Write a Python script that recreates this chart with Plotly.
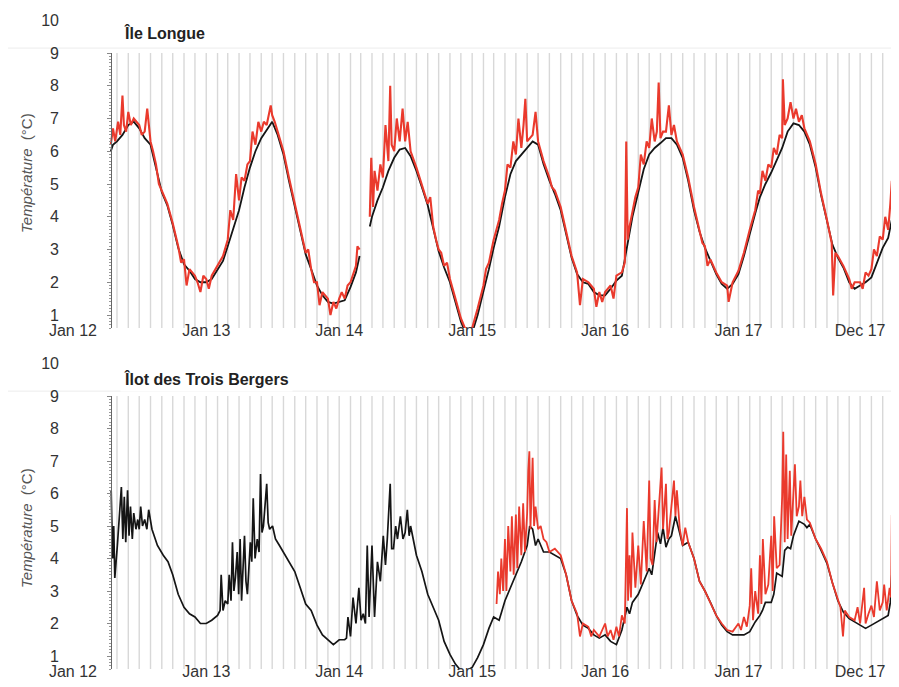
import plotly.graph_objects as go
import pandas as pd

# ---------------- data ----------------
tick_dates = ["2012-01-01", "2013-01-01", "2014-01-01", "2015-01-01",
              "2016-01-01", "2017-01-01", "2017-12-01"]
tick_text = ["Jan 12", "Jan 13", "Jan 14", "Jan 15", "Jan 16", "Jan 17", "Dec 17"]
panel_titles = ["Île Longue", "Îlot des Trois Bergers"]

# Île Longue - black series
ile_longue_black = [
    ("2012-04-14", 6.0), ("2012-04-20", 6.2), ("2012-05-01", 6.3), ("2012-05-16", 6.5),
    ("2012-06-01", 6.8), ("2012-06-16", 6.9), ("2012-07-01", 6.7), ("2012-07-16", 6.4),
    ("2012-08-01", 6.2), ("2012-08-16", 5.5), ("2012-09-01", 4.75), ("2012-09-16", 4.35),
    ("2012-10-01", 3.75), ("2012-10-16", 3.05), ("2012-11-01", 2.55), ("2012-11-16", 2.35),
    ("2012-12-01", 2.1), ("2012-12-16", 2.0), ("2013-01-01", 2.0), ("2013-01-16", 2.1),
    ("2013-02-01", 2.4), ("2013-02-16", 2.65), ("2013-03-01", 3.1), ("2013-03-16", 3.6),
    ("2013-04-01", 4.2), ("2013-04-16", 4.9), ("2013-05-01", 5.5), ("2013-05-16", 6.0),
    ("2013-06-01", 6.4), ("2013-06-16", 6.65), ("2013-07-01", 6.9), ("2013-07-16", 6.5),
    ("2013-08-01", 5.9), ("2013-08-16", 5.1), ("2013-09-01", 4.3), ("2013-09-16", 3.55),
    ("2013-10-01", 2.85), ("2013-10-16", 2.4), ("2013-11-01", 1.9), ("2013-11-16", 1.6),
    ("2013-12-01", 1.4), ("2013-12-16", 1.35), ("2014-01-01", 1.4), ("2014-01-16", 1.45),
    ("2014-02-01", 1.85), ("2014-02-16", 2.3), ("2014-02-26", 2.8), ("2014-03-10", None),
    ("2014-03-26", 3.7), ("2014-04-01", 4.0), ("2014-04-16", 4.5), ("2014-05-01", 4.9),
    ("2014-05-16", 5.4), ("2014-06-01", 5.8), ("2014-06-16", 6.05), ("2014-07-01", 6.1),
    ("2014-07-16", 5.85), ("2014-08-01", 5.4), ("2014-08-16", 4.9), ("2014-09-01", 4.35),
    ("2014-09-16", 3.65), ("2014-10-01", 2.95), ("2014-10-16", 2.45), ("2014-11-01", 2.0),
    ("2014-11-16", 1.4), ("2014-12-01", 0.8), ("2014-12-16", 0.4), ("2015-01-01", 0.45),
    ("2015-01-16", 1.0), ("2015-02-01", 1.7), ("2015-02-16", 2.4), ("2015-03-01", 3.05),
    ("2015-03-16", 3.7), ("2015-04-01", 4.6), ("2015-04-16", 5.3), ("2015-05-01", 5.7),
    ("2015-05-16", 5.9), ("2015-06-01", 6.1), ("2015-06-16", 6.3), ("2015-07-01", 6.2),
    ("2015-07-16", 5.6), ("2015-08-01", 5.1), ("2015-08-16", 4.7), ("2015-09-01", 4.2),
    ("2015-09-16", 3.45), ("2015-10-01", 2.75), ("2015-10-16", 2.25), ("2015-11-01", 2.0),
    ("2015-11-16", 1.95), ("2015-12-01", 1.7), ("2015-12-16", 1.6), ("2016-01-01", 1.6),
    ("2016-01-16", 1.8), ("2016-02-01", 2.05), ("2016-02-16", 2.2), ("2016-03-01", 3.1),
    ("2016-03-16", 4.0), ("2016-04-01", 4.75), ("2016-04-16", 5.45), ("2016-05-01", 5.9),
    ("2016-05-16", 6.1), ("2016-06-01", 6.25), ("2016-06-16", 6.4), ("2016-07-01", 6.4),
    ("2016-07-16", 6.2), ("2016-08-01", 5.8), ("2016-08-16", 5.1), ("2016-09-01", 4.2),
    ("2016-09-16", 3.55), ("2016-10-01", 3.05), ("2016-10-16", 2.65), ("2016-11-01", 2.25),
    ("2016-11-16", 1.95), ("2016-12-01", 1.8), ("2016-12-16", 1.95), ("2017-01-01", 2.25),
    ("2017-01-16", 2.8), ("2017-02-01", 3.5), ("2017-02-16", 4.1), ("2017-03-01", 4.6),
    ("2017-03-16", 5.0), ("2017-04-01", 5.35), ("2017-04-16", 5.7), ("2017-05-01", 6.1),
    ("2017-05-16", 6.6), ("2017-06-01", 6.85), ("2017-06-16", 6.8), ("2017-07-01", 6.6),
    ("2017-07-16", 6.2), ("2017-08-01", 5.5), ("2017-08-16", 4.65), ("2017-09-01", 3.85),
    ("2017-09-16", 3.15), ("2017-10-01", 2.75), ("2017-10-16", 2.45), ("2017-11-01", 2.0),
    ("2017-11-16", 1.8), ("2017-12-01", 1.9), ("2017-12-16", 2.0), ("2018-01-01", 2.15),
    ("2018-01-16", 2.6), ("2018-02-01", 3.05), ("2018-02-16", 3.35), ("2018-02-26", 3.9),
]

# Île Longue - red series
ile_longue_red = [
    ("2012-04-14", 6.2), ("2012-04-20", 6.7), ("2012-04-26", 6.3), ("2012-05-04", 6.9),
    ("2012-05-10", 6.5), ("2012-05-16", 7.7), ("2012-05-20", 6.8), ("2012-05-26", 6.6),
    ("2012-06-01", 7.2), ("2012-06-08", 6.8), ("2012-06-16", 7.0), ("2012-06-24", 6.9),
    ("2012-07-01", 6.8), ("2012-07-08", 6.5), ("2012-07-16", 6.6), ("2012-07-23", 7.3),
    ("2012-08-01", 6.3), ("2012-08-08", 6.0), ("2012-08-16", 5.6), ("2012-08-24", 5.0),
    ("2012-09-01", 4.8), ("2012-09-16", 4.4), ("2012-10-01", 3.8), ("2012-10-16", 3.1),
    ("2012-10-24", 2.6), ("2012-11-01", 2.7), ("2012-11-08", 1.9), ("2012-11-16", 2.4),
    ("2012-12-01", 2.2), ("2012-12-08", 2.0), ("2012-12-16", 1.7), ("2012-12-24", 2.2),
    ("2013-01-01", 2.1), ("2013-01-08", 1.8), ("2013-01-16", 2.2), ("2013-02-01", 2.5),
    ("2013-02-16", 2.8), ("2013-03-01", 3.3), ("2013-03-08", 4.2), ("2013-03-16", 3.9),
    ("2013-03-24", 5.3), ("2013-04-01", 4.5), ("2013-04-08", 5.2), ("2013-04-16", 5.1),
    ("2013-04-24", 5.6), ("2013-05-01", 5.7), ("2013-05-08", 6.6), ("2013-05-16", 6.2),
    ("2013-05-24", 6.9), ("2013-06-01", 6.6), ("2013-06-08", 6.9), ("2013-06-16", 6.8),
    ("2013-06-27", 7.4), ("2013-07-01", 7.1), ("2013-07-08", 6.9), ("2013-07-16", 6.6),
    ("2013-08-01", 6.0), ("2013-08-16", 5.2), ("2013-09-01", 4.4), ("2013-09-16", 3.6),
    ("2013-10-01", 2.9), ("2013-10-08", 3.0), ("2013-10-16", 2.4), ("2013-10-24", 2.0),
    ("2013-11-01", 2.0), ("2013-11-08", 1.3), ("2013-11-16", 1.7), ("2013-12-01", 1.5),
    ("2013-12-08", 1.0), ("2013-12-16", 1.4), ("2013-12-24", 1.2), ("2014-01-01", 1.5),
    ("2014-01-08", 1.7), ("2014-01-16", 1.5), ("2014-01-24", 1.9), ("2014-02-01", 2.0),
    ("2014-02-16", 2.5), ("2014-02-20", 3.1), ("2014-02-26", 3.0), ("2014-03-10", None),
    ("2014-03-26", 4.0), ("2014-03-30", 5.8), ("2014-04-04", 4.3), ("2014-04-08", 5.4),
    ("2014-04-16", 4.8), ("2014-04-24", 5.6), ("2014-05-01", 5.2), ("2014-05-08", 6.8),
    ("2014-05-16", 5.7), ("2014-05-21", 8.0), ("2014-05-25", 6.2), ("2014-06-01", 6.0),
    ("2014-06-08", 7.0), ("2014-06-16", 6.3), ("2014-06-24", 7.3), ("2014-07-01", 6.3),
    ("2014-07-08", 6.9), ("2014-07-16", 6.0), ("2014-08-01", 5.5), ("2014-08-16", 5.0),
    ("2014-09-01", 4.4), ("2014-09-08", 4.6), ("2014-09-16", 3.7), ("2014-09-24", 3.3),
    ("2014-10-01", 3.0), ("2014-10-08", 2.9), ("2014-10-16", 2.5), ("2014-10-24", 2.6),
    ("2014-11-01", 2.1), ("2014-11-16", 1.5), ("2014-12-01", 0.9), ("2014-12-16", 0.5),
    ("2015-01-01", 0.6), ("2015-01-16", 1.2), ("2015-02-01", 1.9), ("2015-02-08", 2.4),
    ("2015-02-16", 2.6), ("2015-03-01", 3.3), ("2015-03-16", 3.9), ("2015-03-24", 4.4),
    ("2015-04-01", 4.8), ("2015-04-08", 5.6), ("2015-04-16", 5.5), ("2015-04-24", 6.3),
    ("2015-05-01", 5.9), ("2015-05-08", 7.0), ("2015-05-16", 6.1), ("2015-05-22", 6.8),
    ("2015-05-27", 7.6), ("2015-06-01", 6.3), ("2015-06-08", 6.4), ("2015-06-16", 6.5),
    ("2015-06-24", 7.2), ("2015-07-01", 6.3), ("2015-07-16", 5.7), ("2015-08-01", 5.2),
    ("2015-08-08", 4.9), ("2015-08-16", 4.8), ("2015-09-01", 4.3), ("2015-09-16", 3.5),
    ("2015-10-01", 2.8), ("2015-10-16", 2.3), ("2015-10-24", 1.3), ("2015-11-01", 2.1),
    ("2015-11-16", 2.0), ("2015-12-01", 1.8), ("2015-12-08", 1.25), ("2015-12-16", 1.7),
    ("2015-12-24", 1.4), ("2016-01-01", 1.7), ("2016-01-16", 1.9), ("2016-01-24", 1.5),
    ("2016-02-01", 2.2), ("2016-02-16", 2.3), ("2016-02-24", 2.6), ("2016-02-28", 6.3),
    ("2016-03-03", 3.3), ("2016-03-08", 3.7), ("2016-03-16", 4.2), ("2016-03-24", 4.6),
    ("2016-04-01", 4.9), ("2016-04-08", 5.9), ("2016-04-16", 5.6), ("2016-04-24", 6.3),
    ("2016-05-01", 6.1), ("2016-05-08", 7.0), ("2016-05-16", 6.3), ("2016-05-22", 6.6),
    ("2016-05-27", 8.1), ("2016-06-01", 6.4), ("2016-06-08", 6.6), ("2016-06-16", 6.6),
    ("2016-06-24", 7.4), ("2016-07-01", 6.5), ("2016-07-08", 6.8), ("2016-07-16", 6.3),
    ("2016-08-01", 5.9), ("2016-08-16", 5.2), ("2016-09-01", 4.3), ("2016-09-16", 3.6),
    ("2016-09-24", 3.2), ("2016-10-01", 3.1), ("2016-10-08", 2.5), ("2016-10-16", 2.7),
    ("2016-11-01", 2.3), ("2016-11-16", 2.0), ("2016-12-01", 1.9), ("2016-12-05", 1.4),
    ("2016-12-16", 2.0), ("2017-01-01", 2.35), ("2017-01-16", 2.9), ("2017-02-01", 3.6),
    ("2017-02-08", 3.9), ("2017-02-16", 4.2), ("2017-02-24", 4.8), ("2017-03-01", 4.7),
    ("2017-03-08", 5.4), ("2017-03-16", 5.1), ("2017-03-24", 5.6), ("2017-04-01", 5.5),
    ("2017-04-08", 6.1), ("2017-04-16", 5.9), ("2017-04-24", 6.5), ("2017-05-01", 6.4),
    ("2017-05-03", 8.2), ("2017-05-08", 6.8), ("2017-05-16", 7.0), ("2017-05-24", 7.5),
    ("2017-06-01", 7.0), ("2017-06-08", 7.3), ("2017-06-16", 6.9), ("2017-06-24", 7.1),
    ("2017-07-01", 6.7), ("2017-07-16", 6.3), ("2017-08-01", 5.6), ("2017-08-16", 4.7),
    ("2017-09-01", 3.9), ("2017-09-14", 3.2), ("2017-09-18", 1.6), ("2017-09-24", 2.9),
    ("2017-10-01", 2.8), ("2017-10-16", 2.5), ("2017-11-01", 2.1), ("2017-11-08", 1.8),
    ("2017-11-16", 2.0), ("2017-12-01", 2.0), ("2017-12-08", 1.8), ("2017-12-16", 2.3),
    ("2017-12-24", 2.2), ("2018-01-01", 2.4), ("2018-01-08", 3.0), ("2018-01-16", 2.8),
    ("2018-01-24", 3.4), ("2018-02-01", 3.3), ("2018-02-08", 4.0), ("2018-02-16", 3.6),
    ("2018-02-22", 4.4), ("2018-02-26", 5.1),
]

# Îlot des Trois Bergers - black series
trois_bergers_black = [
    ("2012-04-15", 6.1), ("2012-04-19", 4.0), ("2012-04-22", 5.0), ("2012-04-25", 3.4),
    ("2012-05-02", 4.4), ("2012-05-08", 5.3), ("2012-05-13", 6.2), ("2012-05-17", 4.6),
    ("2012-05-21", 5.9), ("2012-05-25", 4.5), ("2012-05-30", 6.1), ("2012-06-03", 4.7),
    ("2012-06-07", 5.6), ("2012-06-12", 4.6), ("2012-06-16", 5.4), ("2012-06-22", 4.9),
    ("2012-06-27", 5.2), ("2012-07-01", 4.9), ("2012-07-05", 5.6), ("2012-07-10", 5.0),
    ("2012-07-16", 5.2), ("2012-07-22", 4.9), ("2012-07-27", 5.5), ("2012-08-05", 4.9),
    ("2012-08-20", 4.4), ("2012-09-05", 4.1), ("2012-09-18", 3.9), ("2012-10-01", 3.5),
    ("2012-10-16", 2.9), ("2012-11-01", 2.5), ("2012-11-16", 2.3), ("2012-12-01", 2.2),
    ("2012-12-16", 2.0), ("2013-01-01", 2.0), ("2013-01-16", 2.1), ("2013-02-01", 2.25),
    ("2013-02-08", 2.4), ("2013-02-11", 3.5), ("2013-02-16", 2.4), ("2013-02-22", 2.7),
    ("2013-03-01", 2.6), ("2013-03-05", 3.5), ("2013-03-10", 2.7), ("2013-03-14", 4.5),
    ("2013-03-18", 3.0), ("2013-03-22", 3.4), ("2013-03-27", 4.2), ("2013-03-31", 2.9),
    ("2013-04-04", 4.6), ("2013-04-08", 2.7), ("2013-04-16", 4.7), ("2013-04-20", 3.3),
    ("2013-04-24", 2.9), ("2013-05-02", 4.5), ("2013-05-06", 3.9), ("2013-05-10", 5.85),
    ("2013-05-15", 4.0), ("2013-05-21", 4.6), ("2013-05-26", 4.2), ("2013-05-30", 6.6),
    ("2013-06-03", 4.8), ("2013-06-07", 5.0), ("2013-06-12", 5.6), ("2013-06-16", 6.3),
    ("2013-06-20", 5.1), ("2013-06-24", 4.9), ("2013-07-02", 5.0), ("2013-07-10", 4.6),
    ("2013-07-21", 4.4), ("2013-08-01", 4.2), ("2013-08-16", 3.9), ("2013-09-01", 3.6),
    ("2013-09-16", 3.1), ("2013-10-01", 2.6), ("2013-10-16", 2.4), ("2013-11-01", 1.95),
    ("2013-11-16", 1.65), ("2013-12-01", 1.5), ("2013-12-16", 1.35), ("2014-01-01", 1.5),
    ("2014-01-16", 1.5), ("2014-01-21", 1.55), ("2014-01-25", 2.2), ("2014-02-01", 1.6),
    ("2014-02-08", 2.8), ("2014-02-16", 2.0), ("2014-02-24", 3.1), ("2014-03-02", 2.1),
    ("2014-03-08", 2.3), ("2014-03-14", 2.0), ("2014-03-19", 4.4), ("2014-03-24", 2.2),
    ("2014-04-01", 4.4), ("2014-04-08", 2.2), ("2014-04-16", 3.9), ("2014-04-24", 3.3),
    ("2014-05-02", 4.7), ("2014-05-08", 3.8), ("2014-05-13", 4.6), ("2014-05-21", 6.3),
    ("2014-05-25", 4.3), ("2014-05-30", 4.3), ("2014-06-05", 5.0), ("2014-06-10", 4.6),
    ("2014-06-18", 5.3), ("2014-06-25", 4.6), ("2014-07-01", 4.8), ("2014-07-07", 5.5),
    ("2014-07-12", 4.7), ("2014-07-16", 5.0), ("2014-08-01", 4.1), ("2014-08-16", 3.6),
    ("2014-09-01", 2.9), ("2014-09-16", 2.5), ("2014-10-01", 2.1), ("2014-10-16", 1.45),
    ("2014-11-01", 1.05), ("2014-11-16", 0.75), ("2014-12-01", 0.55), ("2014-12-16", 0.55),
    ("2015-01-01", 0.65), ("2015-01-16", 0.95), ("2015-02-01", 1.35), ("2015-02-16", 1.85),
    ("2015-03-01", 2.2), ("2015-03-16", 2.1), ("2015-04-01", 2.7), ("2015-04-16", 3.1),
    ("2015-05-01", 3.5), ("2015-05-16", 3.9), ("2015-06-01", 4.4), ("2015-06-08", 5.0),
    ("2015-06-16", 4.9), ("2015-06-24", 4.4), ("2015-07-01", 4.6), ("2015-07-16", 4.2),
    ("2015-08-01", 4.2), ("2015-08-16", 4.1), ("2015-09-01", 4.0), ("2015-09-16", 3.5),
    ("2015-10-01", 2.7), ("2015-10-16", 2.25), ("2015-11-01", 1.95), ("2015-11-16", 1.85),
    ("2015-12-01", 1.65), ("2015-12-16", 1.55), ("2016-01-01", 1.65), ("2016-01-16", 1.45),
    ("2016-02-01", 1.35), ("2016-02-16", 1.8), ("2016-03-01", 2.5), ("2016-03-08", 2.3),
    ("2016-03-16", 2.65), ("2016-04-01", 2.9), ("2016-04-16", 3.3), ("2016-05-01", 3.7),
    ("2016-05-08", 3.5), ("2016-05-16", 4.2), ("2016-05-24", 4.8), ("2016-06-01", 4.45),
    ("2016-06-08", 4.95), ("2016-06-16", 4.35), ("2016-06-24", 4.6), ("2016-07-01", 4.7),
    ("2016-07-12", 5.3), ("2016-07-20", 4.95), ("2016-08-01", 4.4), ("2016-08-16", 4.5),
    ("2016-09-01", 4.0), ("2016-09-16", 3.3), ("2016-10-01", 3.0), ("2016-10-16", 2.65),
    ("2016-11-01", 2.25), ("2016-11-16", 1.95), ("2016-12-01", 1.75), ("2016-12-16", 1.65),
    ("2017-01-01", 1.65), ("2017-01-16", 1.65), ("2017-02-01", 1.75), ("2017-02-16", 2.05),
    ("2017-03-01", 2.25), ("2017-03-08", 2.4), ("2017-03-16", 2.65), ("2017-04-01", 2.65),
    ("2017-04-08", 2.9), ("2017-04-16", 3.55), ("2017-05-01", 3.45), ("2017-05-08", 4.25),
    ("2017-05-16", 4.35), ("2017-05-24", 4.3), ("2017-06-01", 4.7), ("2017-06-16", 5.15),
    ("2017-07-01", 5.05), ("2017-07-08", 4.95), ("2017-07-16", 5.05), ("2017-08-01", 4.6),
    ("2017-08-16", 4.25), ("2017-09-01", 3.85), ("2017-09-16", 3.25), ("2017-10-01", 2.7),
    ("2017-10-16", 2.35), ("2017-11-01", 2.15), ("2017-11-16", 2.05), ("2017-12-01", 1.95),
    ("2017-12-16", 1.85), ("2018-01-01", 1.95), ("2018-01-16", 2.05), ("2018-02-01", 2.15),
    ("2018-02-16", 2.25), ("2018-02-22", 2.65), ("2018-02-26", 3.5), ("2018-03-01", 3.2),
    ("2018-03-04", 2.9),
]

# Îlot des Trois Bergers - red series
trois_bergers_red = [
    ("2015-03-09", 2.6), ("2015-03-13", 3.6), ("2015-03-18", 2.9), ("2015-03-22", 4.0),
    ("2015-03-27", 3.0), ("2015-04-01", 4.6), ("2015-04-05", 3.0), ("2015-04-10", 5.0),
    ("2015-04-16", 3.6), ("2015-04-20", 5.3), ("2015-04-25", 3.5), ("2015-05-01", 5.35),
    ("2015-05-05", 3.7), ("2015-05-10", 5.6), ("2015-05-16", 4.1), ("2015-05-21", 5.7),
    ("2015-05-26", 4.2), ("2015-06-01", 5.4), ("2015-06-04", 6.7), ("2015-06-07", 7.3),
    ("2015-06-10", 4.9), ("2015-06-16", 7.1), ("2015-06-20", 5.0), ("2015-06-24", 5.6),
    ("2015-07-01", 4.9), ("2015-07-08", 5.0), ("2015-07-16", 4.6), ("2015-07-24", 4.5),
    ("2015-08-01", 4.2), ("2015-08-16", 4.3), ("2015-09-01", 4.1), ("2015-09-16", 3.5),
    ("2015-10-01", 2.7), ("2015-10-16", 2.3), ("2015-10-24", 1.6), ("2015-11-01", 2.0),
    ("2015-11-16", 1.9), ("2015-11-24", 1.6), ("2015-12-01", 1.8), ("2015-12-16", 1.6),
    ("2016-01-01", 2.0), ("2016-01-08", 1.6), ("2016-01-16", 1.8), ("2016-01-24", 1.5),
    ("2016-02-01", 1.9), ("2016-02-08", 1.6), ("2016-02-16", 2.25), ("2016-02-24", 2.0),
    ("2016-03-01", 5.55), ("2016-03-04", 2.7), ("2016-03-08", 4.1), ("2016-03-12", 2.8),
    ("2016-03-16", 4.8), ("2016-03-24", 3.1), ("2016-04-01", 4.4), ("2016-04-08", 3.2),
    ("2016-04-16", 5.15), ("2016-04-24", 3.6), ("2016-05-01", 6.4), ("2016-05-05", 4.0),
    ("2016-05-10", 3.8), ("2016-05-16", 5.8), ("2016-05-21", 4.5), ("2016-05-27", 5.5),
    ("2016-06-01", 6.05), ("2016-06-04", 6.8), ("2016-06-08", 4.9), ("2016-06-16", 6.3),
    ("2016-06-20", 4.6), ("2016-06-24", 4.8), ("2016-07-01", 5.6), ("2016-07-08", 6.4),
    ("2016-07-12", 5.3), ("2016-07-16", 6.1), ("2016-07-24", 4.9), ("2016-08-01", 4.4),
    ("2016-08-08", 4.95), ("2016-08-16", 4.5), ("2016-09-01", 4.0), ("2016-09-16", 3.3),
    ("2016-10-01", 3.0), ("2016-10-16", 2.65), ("2016-11-01", 2.25), ("2016-11-16", 2.0),
    ("2016-12-01", 1.8), ("2016-12-16", 1.75), ("2017-01-01", 2.0), ("2017-01-08", 1.8),
    ("2017-01-16", 2.2), ("2017-01-24", 1.9), ("2017-02-01", 2.55), ("2017-02-05", 3.7),
    ("2017-02-10", 2.1), ("2017-02-16", 3.0), ("2017-02-24", 2.3), ("2017-03-01", 4.1),
    ("2017-03-05", 2.6), ("2017-03-09", 4.6), ("2017-03-16", 2.9), ("2017-03-24", 3.2),
    ("2017-04-01", 4.7), ("2017-04-05", 3.0), ("2017-04-09", 5.3), ("2017-04-16", 3.7),
    ("2017-04-24", 3.8), ("2017-05-01", 5.9), ("2017-05-04", 7.9), ("2017-05-08", 4.5),
    ("2017-05-12", 7.2), ("2017-05-16", 4.6), ("2017-05-22", 6.7), ("2017-05-26", 4.7),
    ("2017-06-01", 6.2), ("2017-06-05", 6.9), ("2017-06-10", 5.3), ("2017-06-16", 5.6),
    ("2017-06-20", 6.4), ("2017-06-25", 5.3), ("2017-07-01", 5.9), ("2017-07-08", 5.2),
    ("2017-07-16", 5.1), ("2017-08-01", 4.6), ("2017-08-16", 4.3), ("2017-09-01", 3.9),
    ("2017-09-16", 3.25), ("2017-10-01", 2.7), ("2017-10-08", 2.5), ("2017-10-15", 1.6),
    ("2017-10-20", 2.4), ("2017-11-01", 2.2), ("2017-11-16", 2.1), ("2017-11-24", 2.5),
    ("2017-12-01", 2.0), ("2017-12-12", 3.1), ("2017-12-16", 2.0), ("2017-12-24", 2.3),
    ("2018-01-01", 2.55), ("2018-01-08", 2.2), ("2018-01-16", 3.3), ("2018-01-24", 2.4),
    ("2018-02-01", 2.65), ("2018-02-05", 3.2), ("2018-02-12", 2.4), ("2018-02-16", 2.75),
    ("2018-02-20", 3.1), ("2018-02-24", 2.8), ("2018-02-26", 5.35), ("2018-03-01", 4.1),
    ("2018-03-04", 6.0), ("2018-03-07", 6.6),
]

# ---------------- styling ----------------
W, H = 899, 687
BLACK = "#151515"
RED = "#ea3a2d"
GRID = "#d8d8d8"
TXT = "#333333"
FONT = "Liberation Sans, Arial, sans-serif"

X_RANGE = ["2011-12-13", "2018-03-15"]
Y_RANGE = [0.6, 10.05]
X_DOM = [58 / W, 890 / W]
TOP_DOM = [1 - 320.1 / H, 1 - 10.6 / H]
BOT_DOM = [1 - 661.0 / H, 1 - 353.9 / H]
TOP_RULER = [1 - 320.1 / H, 1 - 45.0 / H]
BOT_RULER = [1 - 661.0 / H, 1 - 388.0 / H]
RULER_X = 103 / W


def split(series):
    xs = [d for d, _ in series]
    ys = [v for _, v in series]
    return xs, ys


fig = go.Figure()

for series, color, width, xa, ya in [
    (ile_longue_black, BLACK, 1.8, "x", "y"),
    (ile_longue_red, RED, 2.1, "x", "y"),
    (trois_bergers_black, BLACK, 1.7, "x2", "y2"),
    (trois_bergers_red, RED, 1.8, "x2", "y2"),
]:
    xs, ys = split(series)
    fig.add_trace(go.Scatter(x=xs, y=ys, mode="lines", xaxis=xa, yaxis=ya,
                             line=dict(color=color, width=width),
                             connectgaps=False, showlegend=False, hoverinfo="skip"))

# invisible traces so the ruler axes are drawn
fig.add_trace(go.Scatter(x=[None], y=[None], xaxis="x", yaxis="y3", showlegend=False))
fig.add_trace(go.Scatter(x=[None], y=[None], xaxis="x2", yaxis="y4", showlegend=False))

xaxis_common = dict(range=X_RANGE, domain=X_DOM, type="date", showgrid=False,
                    zeroline=False, showline=False, ticks="",
                    tickmode="array", tickvals=tick_dates, ticktext=tick_text,
                    tickfont=dict(family=FONT, size=16, color=TXT), automargin=False,
                    ticklabelstandoff=-9)
yaxis_common = dict(range=Y_RANGE, showgrid=False, zeroline=False, showline=False,
                    ticks="", tickmode="linear", tick0=1, dtick=1,
                    tickfont=dict(family=FONT, size=16, color=TXT), automargin=False,
                    ticklabelstandoff=6)
ruler_common = dict(range=[0.6, 9], anchor="free", position=RULER_X, side="left",
                    showgrid=False, zeroline=False, showline=True, linecolor="#666",
                    linewidth=1, ticks="outside", ticklen=4, tickcolor="#888",
                    tickmode="linear", tick0=1, dtick=1, showticklabels=False,
                    minor=dict(ticks="outside", ticklen=2.5, tickcolor="#999", dtick=0.1),
                    automargin=False)

fig.update_layout(
    width=W, height=H,
    margin=dict(l=0, r=0, t=0, b=0),
    paper_bgcolor="white", plot_bgcolor="rgba(0,0,0,0)",
    xaxis=dict(xaxis_common, anchor="y"),
    yaxis=dict(yaxis_common, domain=TOP_DOM, anchor="x"),
    xaxis2=dict(xaxis_common, anchor="y2"),
    yaxis2=dict(yaxis_common, domain=BOT_DOM, anchor="x2"),
    yaxis3=dict(ruler_common, domain=TOP_RULER),
    yaxis4=dict(ruler_common, domain=BOT_RULER),
)

# monthly vertical guide lines + faint top rule, per panel
months = pd.date_range("2012-05-01", "2018-03-01", freq="MS")
shapes = []
for xr, yr in [("x", "y"), ("x2", "y2")]:
    for m in months:
        shapes.append(dict(type="line", xref=xr, yref=yr, x0=m, x1=m, y0=0.6, y1=9.0,
                           line=dict(color=GRID, width=1.4), layer="below"))
    shapes.append(dict(type="line", xref="paper", yref=yr, x0=0.0, x1=0.995,
                       y0=9.15, y1=9.15, line=dict(color="#ececec", width=1),
                       layer="below"))
fig.update_layout(shapes=shapes)

# panel titles and y-axis titles
ann = []
for title, ypix in zip(panel_titles, [25, 371]):
    ann.append(dict(text=f"<b>{title}</b>", xref="paper", yref="paper",
                    x=112 / W, y=1 - ypix / H, xanchor="left", yanchor="middle",
                    showarrow=False, bgcolor="white", borderpad=3,
                    font=dict(family=FONT, size=16, color="#222")))
for ypix in [165, 520]:
    ann.append(dict(text="<i>Température</i>  (°C)", xref="paper", yref="paper",
                    x=18 / W, y=1 - ypix / H, xanchor="center", yanchor="middle",
                    textangle=-90, showarrow=False,
                    font=dict(family=FONT, size=15, color="#555")))
fig.update_layout(annotations=ann)

fig.write_html("out.html")
